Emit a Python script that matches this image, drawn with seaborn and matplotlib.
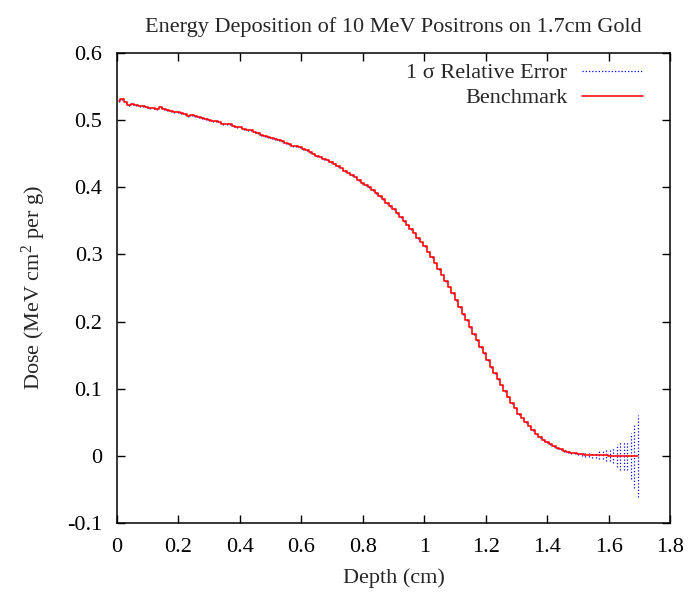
import numpy as np
import pandas as pd
import matplotlib
matplotlib.use("Agg")
import matplotlib.pyplot as plt
from matplotlib.lines import Line2D
import seaborn as sns

# ---- data ----
n_bins = 150
thickness = 1.7  # cm

dose = [
    0.528, 0.531, 0.527, 0.523, 0.524, 0.522, 0.521, 0.521, 0.519, 0.518,
    0.518, 0.516, 0.519, 0.517, 0.515, 0.513, 0.512, 0.512, 0.510, 0.509,
    0.506, 0.507, 0.506, 0.504, 0.503, 0.501, 0.500, 0.499, 0.498, 0.497,
    0.495, 0.494, 0.494, 0.491, 0.490, 0.490, 0.487, 0.486, 0.486, 0.482,
    0.481, 0.478, 0.477, 0.475, 0.474, 0.472, 0.471, 0.469, 0.466, 0.465,
    0.462, 0.461, 0.460, 0.457, 0.455, 0.452, 0.450, 0.447, 0.445, 0.442,
    0.440, 0.437, 0.434, 0.431, 0.428, 0.425, 0.422, 0.418, 0.415, 0.411,
    0.407, 0.404, 0.400, 0.396, 0.391, 0.387, 0.382, 0.377, 0.372, 0.367,
    0.361, 0.356, 0.350, 0.344, 0.338, 0.332, 0.325, 0.318, 0.312, 0.304,
    0.296, 0.287, 0.278, 0.269, 0.261, 0.251, 0.242, 0.232, 0.222, 0.212,
    0.202, 0.192, 0.182, 0.172, 0.162, 0.153, 0.143, 0.133, 0.123, 0.114,
    0.105, 0.096, 0.087, 0.079, 0.071, 0.063, 0.056, 0.050, 0.044, 0.038,
    0.033, 0.028, 0.024, 0.020, 0.017, 0.014, 0.012, 0.0095, 0.0077, 0.0062,
    0.0049, 0.0039, 0.0031, 0.0025, 0.0020, 0.0016, 0.0013, 0.0010, 0.0008, 0.0007,
    0.0006, 0.0005, 0.0004, 0.0004, 0.0003, 0.0003, 0.0002, 0.0002, 0.0002, 0.0001,
]

# absolute 1-sigma error (half-length of each error bar)
error = [0.0015] * 131 + [
    0.0015, 0.002, 0.002, 0.003, 0.003, 0.004, 0.004, 0.006, 0.006, 0.008,
    0.008, 0.011, 0.017, 0.021, 0.021, 0.022, 0.034, 0.048, 0.061,
]

x_ticks = [0, 0.2, 0.4, 0.6, 0.8, 1, 1.2, 1.4, 1.6, 1.8]
y_ticks = [-0.1, 0, 0.1, 0.2, 0.3, 0.4, 0.5, 0.6]

title = "Energy Deposition of 10 MeV Positrons on 1.7cm Gold"
xlabel = "Depth (cm)"
ylabel = "Dose (MeV cm$^{2}$ per g)"
labels = ["1 \u03c3 Relative Error", "Benchmark"]

# ---- build table ----
width = thickness / n_bins
depth = (np.arange(n_bins) + 0.5) * width
df = pd.DataFrame({"depth": depth, "dose": dose, "err": error})

# ---- style ----
sns.set_theme(style="ticks")
plt.rcParams["font.family"] = ["Liberation Serif", "DejaVu Serif"]
plt.rcParams["mathtext.fontset"] = "custom"
plt.rcParams["mathtext.rm"] = "Liberation Serif"
plt.rcParams["mathtext.it"] = "Liberation Serif:italic"

FS = 16

fig = plt.figure(figsize=(6.89, 5.94), dpi=100)
ax = fig.add_axes([117 / 689, 1 - 523 / 594, 553 / 689, 470 / 594])

# error bars (dotted blue)
eb = ax.errorbar(df["depth"], df["dose"], yerr=df["err"], fmt="none",
                 ecolor="blue", elinewidth=0.9, capsize=0, zorder=2)
for lc in eb[2]:
    lc.set_linestyle((0, (1, 1.6)))

# benchmark histogram steps
sns.lineplot(data=df, x="depth", y="dose", drawstyle="steps-mid",
             color="red", linewidth=1.15, ax=ax, zorder=3, estimator=None,
             sort=False)

ax.set_xlim(0, 1.8)
ax.set_ylim(-0.1, 0.6)
ax.set_xticks(x_ticks)
ax.set_xticklabels([f"{t:g}" for t in x_ticks])
ax.set_yticks(y_ticks)
ax.set_yticklabels([f"{t:g}" for t in y_ticks])
ax.tick_params(direction="in", length=6, width=1.0, top=True, right=True,
               labelsize=FS, colors="black")
ax.tick_params(axis="x", pad=11)
ax.tick_params(axis="y", pad=10.5)
for s in ax.spines.values():
    s.set_visible(True)
    s.set_linewidth(1.1)
    s.set_color("black")

ax.set_title(title, fontsize=FS, pad=15)
ax.set_xlabel(xlabel, fontsize=FS, labelpad=8)
ax.set_ylabel(ylabel, fontsize=FS, labelpad=14)

handles = [Line2D([], [], color="blue", lw=0.9, linestyle=(0, (1, 1.6))),
           Line2D([], [], color="red", lw=1.15)]
ax.legend(handles, labels, loc="upper right", bbox_to_anchor=(0.951, 0.979),
          frameon=False, markerfirst=False, fontsize=FS, handlelength=2.75,
          handletextpad=0.65, labelspacing=0.2, borderpad=0, borderaxespad=0)

fig.savefig("out.png", dpi=100)
